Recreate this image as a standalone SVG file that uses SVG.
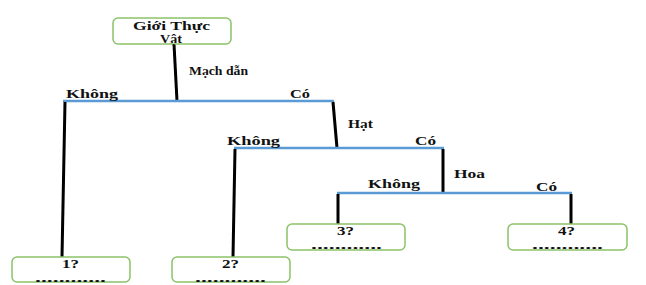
<svg xmlns="http://www.w3.org/2000/svg" width="646" height="285" viewBox="0 0 646 285">
<style>
.box{fill:#fff;stroke:#8cc26a;stroke-width:1.5}
.t{font-family:"Liberation Serif","Times New Roman",serif;font-weight:bold;font-size:13px;fill:#111}
.s{font-size:12px}
.blue{stroke:#5b9bd5;stroke-width:2.5;fill:none}
.blk{stroke:#000;stroke-width:3;fill:none}
</style>
<rect width="646" height="285" fill="#fff"/>
<g id="connectors">
<line class="blk" x1="174" y1="44" x2="177" y2="101"/>
<line class="blue" x1="63" y1="101" x2="334" y2="101"/>
<line class="blk" x1="65" y1="102" x2="62" y2="257"/>
<line class="blk" x1="333" y1="102" x2="337" y2="148"/>
<line class="blue" x1="234" y1="148" x2="444" y2="148"/>
<line class="blk" x1="235" y1="149" x2="233" y2="257"/>
<line class="blk" x1="443" y1="149" x2="443" y2="193"/>
<line class="blue" x1="337" y1="193" x2="572" y2="193"/>
<line class="blk" x1="338" y1="194" x2="338" y2="224"/>
<line class="blk" x1="571" y1="194" x2="571" y2="224"/>
<text class="t" x="189" y="75" textLength="59" lengthAdjust="spacingAndGlyphs">Mạch dẫn</text>
<text class="t" x="66" y="98" textLength="52" lengthAdjust="spacingAndGlyphs">Không</text>
<text class="t" x="290" y="98" textLength="20" lengthAdjust="spacingAndGlyphs">Có</text>
<text class="t" x="348" y="128" textLength="25" lengthAdjust="spacingAndGlyphs">Hạt</text>
<text class="t" x="227" y="145" textLength="53" lengthAdjust="spacingAndGlyphs">Không</text>
<text class="t" x="415" y="145" textLength="21" lengthAdjust="spacingAndGlyphs">Có</text>
<text class="t" x="454" y="178" textLength="31" lengthAdjust="spacingAndGlyphs">Hoa</text>
<text class="t" x="368" y="188" textLength="52" lengthAdjust="spacingAndGlyphs">Không</text>
<text class="t" x="536" y="191" textLength="21" lengthAdjust="spacingAndGlyphs">Có</text>
</g>
<g id="root">
<rect class="box" x="113" y="18" width="118" height="26" rx="5"/>
<text class="t s" x="133" y="30" textLength="77" lengthAdjust="spacingAndGlyphs">Giới Thực</text>
<text class="t s" x="160" y="43" textLength="22" lengthAdjust="spacingAndGlyphs">Vật</text>
</g>
<g id="n1">
<rect class="box" x="12" y="257" width="118" height="25" rx="5"/>
<text class="t" x="62" y="268" textLength="17" lengthAdjust="spacingAndGlyphs">1?</text>
<text class="t" x="35" y="282" textLength="71" lengthAdjust="spacingAndGlyphs">............</text>
</g>
<g id="n2">
<rect class="box" x="172" y="257" width="118" height="25" rx="5"/>
<text class="t" x="222" y="268" textLength="17" lengthAdjust="spacingAndGlyphs">2?</text>
<text class="t" x="195" y="282" textLength="71" lengthAdjust="spacingAndGlyphs">............</text>
</g>
<g id="n3">
<rect class="box" x="287" y="224" width="118" height="26" rx="5"/>
<text class="t" x="337" y="235" textLength="17" lengthAdjust="spacingAndGlyphs">3?</text>
<text class="t" x="311" y="249" textLength="71" lengthAdjust="spacingAndGlyphs">............</text>
</g>
<g id="n4">
<rect class="box" x="508" y="224" width="119" height="26" rx="5"/>
<text class="t" x="558" y="235" textLength="17" lengthAdjust="spacingAndGlyphs">4?</text>
<text class="t" x="532" y="249" textLength="71" lengthAdjust="spacingAndGlyphs">............</text>
</g>
</svg>
